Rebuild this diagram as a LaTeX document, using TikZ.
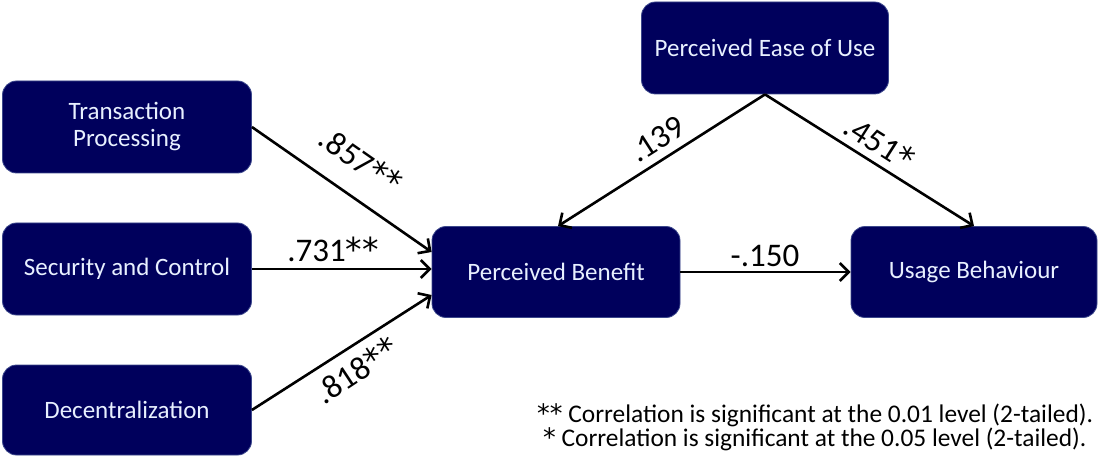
\documentclass[tikz,border=0pt]{standalone}
\usepackage{fontspec}
\setmainfont{Carlito}
\newfontfamily\astfont{DejaVu Sans}
\newcommand{\stx}{{\astfont *}}
\usetikzlibrary{arrows.meta}
\definecolor{boxfill}{RGB}{0,0,92}
\definecolor{boxedge}{RGB}{60,72,140}
\definecolor{boxtext}{RGB}{232,240,255}
\tikzset{
  box/.style={draw=boxedge, line width=0.8pt, fill=boxfill, rounded corners=14pt,
    text=boxtext, align=center, font=\fontsize{25}{27}\selectfont, inner sep=0pt},
  conn/.style={line width=2.6pt, -{Straight Barb[length=9pt,width=18pt,line width=2.6pt]}},
  coef/.style={font=\fontsize{33}{36}\selectfont, inner sep=0pt},
  legend/.style={font=\fontsize{25.4}{27}\selectfont, inner sep=0pt, anchor=west}
}
\begin{document}
\begin{tikzpicture}[x=1pt,y=-1pt]
\useasboundingbox (0,0) rectangle (1099,462);
\node[box, minimum width=249pt, minimum height=92pt] (tp) at (127,127) {Transaction\\Processing};
\node[box, minimum width=249pt, minimum height=92pt] (sc) at (127,269) {Security and Control};
\node[box, minimum width=249pt, minimum height=90pt] (dec) at (127,410) {Decentralization};
\node[box, minimum width=248pt, minimum height=91pt] (pb) at (556,272) {Perceived Benefit};
\node[box, minimum width=246pt, minimum height=91pt] (ub) at (974,272) {Usage Behaviour};
\node[box, minimum width=247pt, minimum height=92pt] (peou) at (765,48) {Perceived Ease of Use};

\draw[conn] (tp.east) -- ([yshift=20pt]pb.west);
\draw[conn] (sc.east) -- (pb.west |- sc.east);
\draw[conn] (dec.east) -- ([yshift=-23pt]pb.west);
\draw[conn] (peou.south) -- ([xshift=2pt]pb.north);
\draw[conn] (peou.south) -- (ub.north);
\draw[conn] (pb.east) -- (ub.west);

\node[coef, rotate=-35] (l857) at (361,160) {.857\stx\stx};
\node[coef] (l731) at (333,249) {.731\stx\stx};
\node[coef, rotate=33.5] (l818) at (356,370) {.818\stx\stx};
\node[coef, rotate=32.7] (l139) at (657,139) {.139};
\node[coef, rotate=-32.5] (l451) at (880,142) {.451\stx};
\node[coef] (l150) at (765,256) {-.150};

\node[legend] (leg1) at (537,415) {\stx\stx{} Correlation is significant at the 0.01 level (2-tailed).};
\node[legend] (leg2) at (543,439) {\stx{} Correlation is significant at the 0.05 level (2-tailed).};
\end{tikzpicture}
\end{document}
